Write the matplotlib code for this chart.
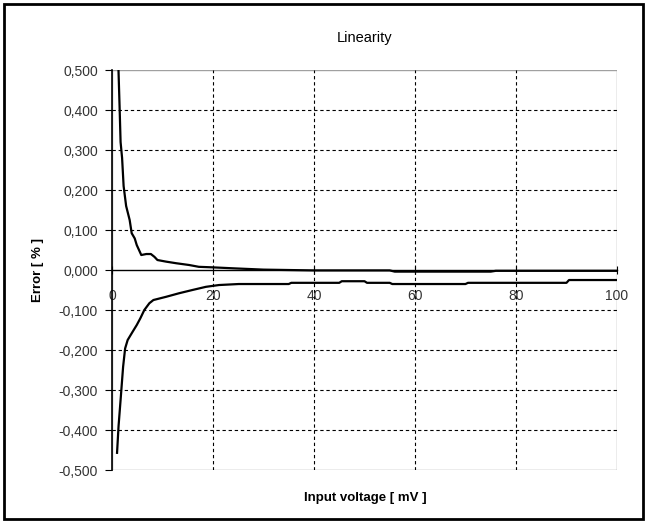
import matplotlib.pyplot as plt
from matplotlib.patches import Rectangle

plt.rcParams['font.family'] = ['Liberation Sans', 'DejaVu Sans']

upper_x = [1.0, 1.5, 1.7, 2.0, 2.3, 2.8, 3.5, 3.9, 4.5, 4.9, 5.8, 6.8, 7.7, 8.4, 9.0,
           10.7, 12.7, 15.3, 17.2, 19.9, 24.5, 30, 40, 55, 56, 75, 76, 100]
upper_err = [0.62, 0.41, 0.32, 0.28, 0.21, 0.16, 0.125, 0.092, 0.079, 0.0625, 0.0375,
             0.040, 0.040, 0.033, 0.025, 0.021, 0.017, 0.0125, 0.008, 0.0067, 0.004,
             0.001, -0.001, -0.001, -0.004, -0.004, -0.002, -0.002]

lower_x = [1.0, 1.3, 1.7, 2.2, 2.6, 3.1, 4.1, 4.9, 5.6, 6.4, 7.4, 8.2, 10.7, 13.3, 15.9,
           18.6, 21.2, 25.1, 35, 35.5, 45, 45.5, 50, 50.5, 55, 55.5, 70, 70.5, 90, 90.5, 100]
lower_err = [-0.457, -0.39, -0.325, -0.242, -0.196, -0.175, -0.154, -0.1375, -0.121, -0.1,
             -0.083, -0.075, -0.067, -0.058, -0.05, -0.042, -0.0375, -0.035, -0.035, -0.032,
             -0.032, -0.028, -0.028, -0.032, -0.032, -0.035, -0.035, -0.032, -0.032, -0.025,
             -0.025]

x_ticks = [0, 20, 40, 60, 80, 100]
y_ticks = [0.5, 0.4, 0.3, 0.2, 0.1, 0.0, -0.1, -0.2, -0.3, -0.4, -0.5]
y_tick_labels = ['0,500', '0,400', '0,300', '0,200', '0,100', '0,000',
                 '-0,100', '-0,200', '-0,300', '-0,400', '-0,500']

fig = plt.figure(figsize=(6.47, 5.23), dpi=100)
ax = fig.add_axes([0.1731, 0.1013, 0.7805, 0.7648])

ax.plot(upper_x, upper_err, color='black', linewidth=1.6)
ax.plot(lower_x, lower_err, color='black', linewidth=1.6)

ax.set_xlim(0, 100)
ax.set_ylim(-0.5, 0.5)
ax.set_xticks(x_ticks)
ax.set_xticklabels([str(t) for t in x_ticks])
ax.set_yticks(y_ticks)
ax.set_yticklabels(y_tick_labels)

# dashed grid, skip the zero line (drawn by the axis)
for t in x_ticks[1:-1]:
    ax.axvline(t, color='black', linestyle=(0, (3, 2.5)), linewidth=0.8, zorder=1)
for t in y_ticks:
    if t not in (0.5, 0.0, -0.5):
        ax.axhline(t, color='black', linestyle=(0, (3, 2.5)), linewidth=0.8, zorder=1)

# x axis crosses at zero
ax.spines['bottom'].set_position(('data', 0))
ax.spines['bottom'].set_color('black')
ax.spines['bottom'].set_linewidth(1.0)
ax.spines['left'].set_color('black')
ax.spines['left'].set_linewidth(1.2)
ax.spines['top'].set_visible(False)
ax.spines['right'].set_visible(False)
ax.add_patch(Rectangle((0, 0), 1, 1, transform=ax.transAxes, fill=False,
                       edgecolor='#a0a0a0', linewidth=1.0, zorder=0))

ax.tick_params(axis='x', direction='inout', length=6, labelsize=10, pad=11,
               colors='black')
ax.tick_params(axis='y', direction='out', length=5, labelsize=10, pad=5)
for lbl in ax.get_xticklabels():
    lbl.set_color('#333333')
for lbl in ax.get_yticklabels():
    lbl.set_color('#333333')

ax.set_title('Linearity', fontsize=10.5, pad=20)
fig.text(0.5641, 0.048, 'Input voltage [ mV ]', ha='center', va='center',
         fontsize=9.5, fontweight='bold')
fig.text(0.059, 0.484, 'Error [ % ]', ha='center', va='center', rotation=90,
         fontsize=9.5, fontweight='bold')

# chart outer border
fig.patches.append(Rectangle((0.006, 0.008), 0.988, 0.984, transform=fig.transFigure,
                             fill=False, edgecolor='black', linewidth=2.0))

fig.savefig('out.png', dpi=100)
